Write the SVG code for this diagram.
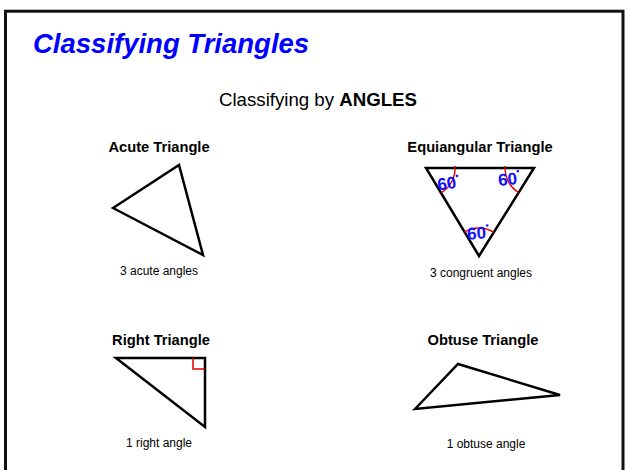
<svg xmlns="http://www.w3.org/2000/svg" width="625" height="470" viewBox="0 0 625 470">
<style>
.tri{fill:none;stroke:#000;stroke-width:2.5;stroke-linejoin:miter}
.hd{font-family:"Liberation Sans",Arial,sans-serif;font-weight:bold;font-size:14.7px;fill:#000;text-anchor:middle}
.sub{font-family:"Liberation Sans",Arial,sans-serif;font-size:12px;fill:#000;text-anchor:middle}
.arc{fill:none;stroke:#e00000;stroke-width:1.4}
.deg{font-family:"Liberation Sans",Arial,sans-serif;font-size:17px;fill:#1010ff;font-weight:bold}
</style>
<rect x="0" y="0" width="625" height="470" fill="#fff"/>
<rect x="5.5" y="11.2" width="617.5" height="470" fill="none" stroke="#111" stroke-width="3"/>
<text x="33" y="53" font-family="'Liberation Sans',Arial,sans-serif" font-size="27.5" font-weight="bold" font-style="italic" fill="#0000ff">Classifying Triangles</text>
<text x="318" y="106" font-family="'Liberation Sans',Arial,sans-serif" font-size="18.67" text-anchor="middle" fill="#000">Classifying by <tspan font-weight="bold">ANGLES</tspan></text>

<g id="acute">
<text class="hd" x="159" y="152">Acute Triangle</text>
<polygon class="tri" points="113,208 179,165 203,255"/>
<text class="sub" x="159" y="275">3 acute angles</text>
</g>

<g id="equiangular">
<text class="hd" x="480" y="152">Equiangular Triangle</text>
<polygon class="tri" points="426,168 534,168 479,256"/>
<path class="arc" d="M455,166 A29,29 0 0 1 441,193"/>
<path class="arc" d="M505,166 A29,29 0 0 0 518.6,192.6"/>
<path class="arc" d="M464.5,232 A28,28 0 0 1 493.8,232.3"/>
<text class="deg" x="437" y="189" transform="rotate(-8 448 181)">60<tspan font-size="9" dy="-9">•</tspan></text>
<text class="deg" x="498" y="185" transform="rotate(-6 509 178)">60<tspan font-size="9" dy="-10">•</tspan></text>
<text class="deg" x="467" y="239" transform="rotate(-4 478 232)">60<tspan font-size="9" dy="-10">•</tspan></text>
<text class="sub" x="481" y="277">3 congruent angles</text>
</g>

<g id="right">
<text class="hd" x="161" y="345">Right Triangle</text>
<polygon class="tri" points="116,358 205,358 205,427"/>
<polyline points="193,358 193,369 205,369" fill="none" stroke="#e00000" stroke-width="1.5"/>
<text class="sub" x="159" y="447">1 right angle</text>
</g>

<g id="obtuse">
<text class="hd" x="483" y="345">Obtuse Triangle</text>
<polygon class="tri" points="415,409 458,364 560,395"/>
<text class="sub" x="486" y="448">1 obtuse angle</text>
</g>
</svg>
